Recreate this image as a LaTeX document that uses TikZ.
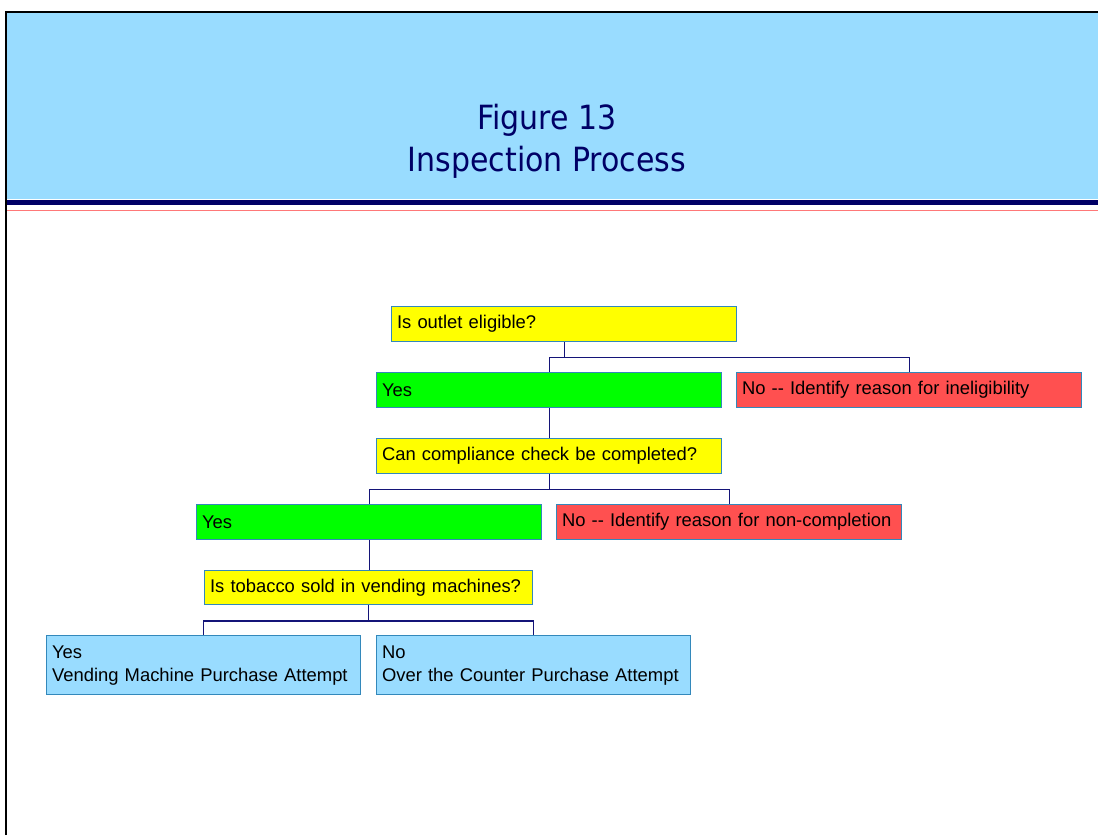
\documentclass[tikz,border=0pt]{standalone}
\usepackage{fontspec}
\setmainfont{Liberation Sans}
\newfontfamily\titlefont{DejaVu Sans Condensed}
\usepackage{tikz}
\definecolor{hdrblue}{RGB}{153,220,255}
\definecolor{navy}{RGB}{0,0,102}
\definecolor{redrule}{RGB}{255,120,120}
\definecolor{qyellow}{RGB}{255,255,0}
\definecolor{ygreen}{RGB}{0,255,0}
\definecolor{nred}{RGB}{255,80,80}
\definecolor{edgeblue}{RGB}{51,136,187}
\definecolor{wire}{RGB}{20,20,120}

\begin{document}
\begin{tikzpicture}[x=0.75pt,y=-0.75pt,
  box/.style={draw=edgeblue,line width=1.1pt,anchor=north west,inner xsep=4pt,
    align=left,font=\fontsize{13.8}{17.25}\selectfont,text=black},
  wide/.style={box,minimum width=258.75pt,minimum height=26.25pt,text width=250.75pt},
  leaf/.style={box,fill=hdrblue,minimum width=235.5pt,minimum height=44.25pt,text width=227.5pt},
  conn/.style={draw=wire,line width=1.1pt}]
\useasboundingbox (0,0) rectangle (1098,835);
\fill[hdrblue] (6,12) rectangle (1098,199);
\fill[navy] (7,200) rectangle (1098,205);
\draw[redrule,line width=1.2pt] (7,210.5) -- (1098,210.5);
\draw[black,line width=1.5pt] (6,835) -- (6,12) -- (1098,12);
\node[align=center,text=navy,font=\titlefont\fontsize{25}{31.5}\selectfont] (title) at (547,141)
  {Figure 13\\Inspection Process};
\node[wide,fill=qyellow] (q1) at (391,306) {Is outlet eligible?};
\node[wide,fill=ygreen] (yes1) at (376,372) {Yes};
\node[wide,fill=nred] (no1) at (736,372) {No -{}- Identify reason for ineligibility};
\node[wide,fill=qyellow] (q2) at (376,438) {Can compliance check be completed?};
\node[wide,fill=ygreen] (yes2) at (196,504) {Yes};
\node[wide,fill=nred] (no2) at (556,504) {No -{}- Identify reason for non-completion};
\node[box,fill=qyellow,minimum width=246pt,minimum height=25.5pt,text width=238pt] (q3) at (204,570)
  {Is tobacco sold in vending machines?};
\node[leaf] (vend) at (46,635) {Yes\\Vending Machine Purchase Attempt};
\node[leaf] (otc) at (376,635) {No\\Over the Counter Purchase Attempt};
\draw[conn] (q1.south) -- ++(0,15) coordinate (j1);
\draw[conn] (j1) -| (yes1.north);
\draw[conn] (j1) -| (no1.north);
\draw[conn] (yes1.south) -- (yes1.south |- q2.north);
\draw[conn] (q2.south) -- ++(0,15) coordinate (j2);
\draw[conn] (j2) -| (yes2.north);
\draw[conn] (j2) -| (no2.north);
\draw[conn] (yes2.south) -- (yes2.south |- q3.north);
\draw[conn] (q3.south) -- ++(0,15.5) coordinate (j3);
\draw[conn] (j3) -| (vend.north);
\draw[conn] (j3) -| (otc.north);
\end{tikzpicture}
\end{document}
